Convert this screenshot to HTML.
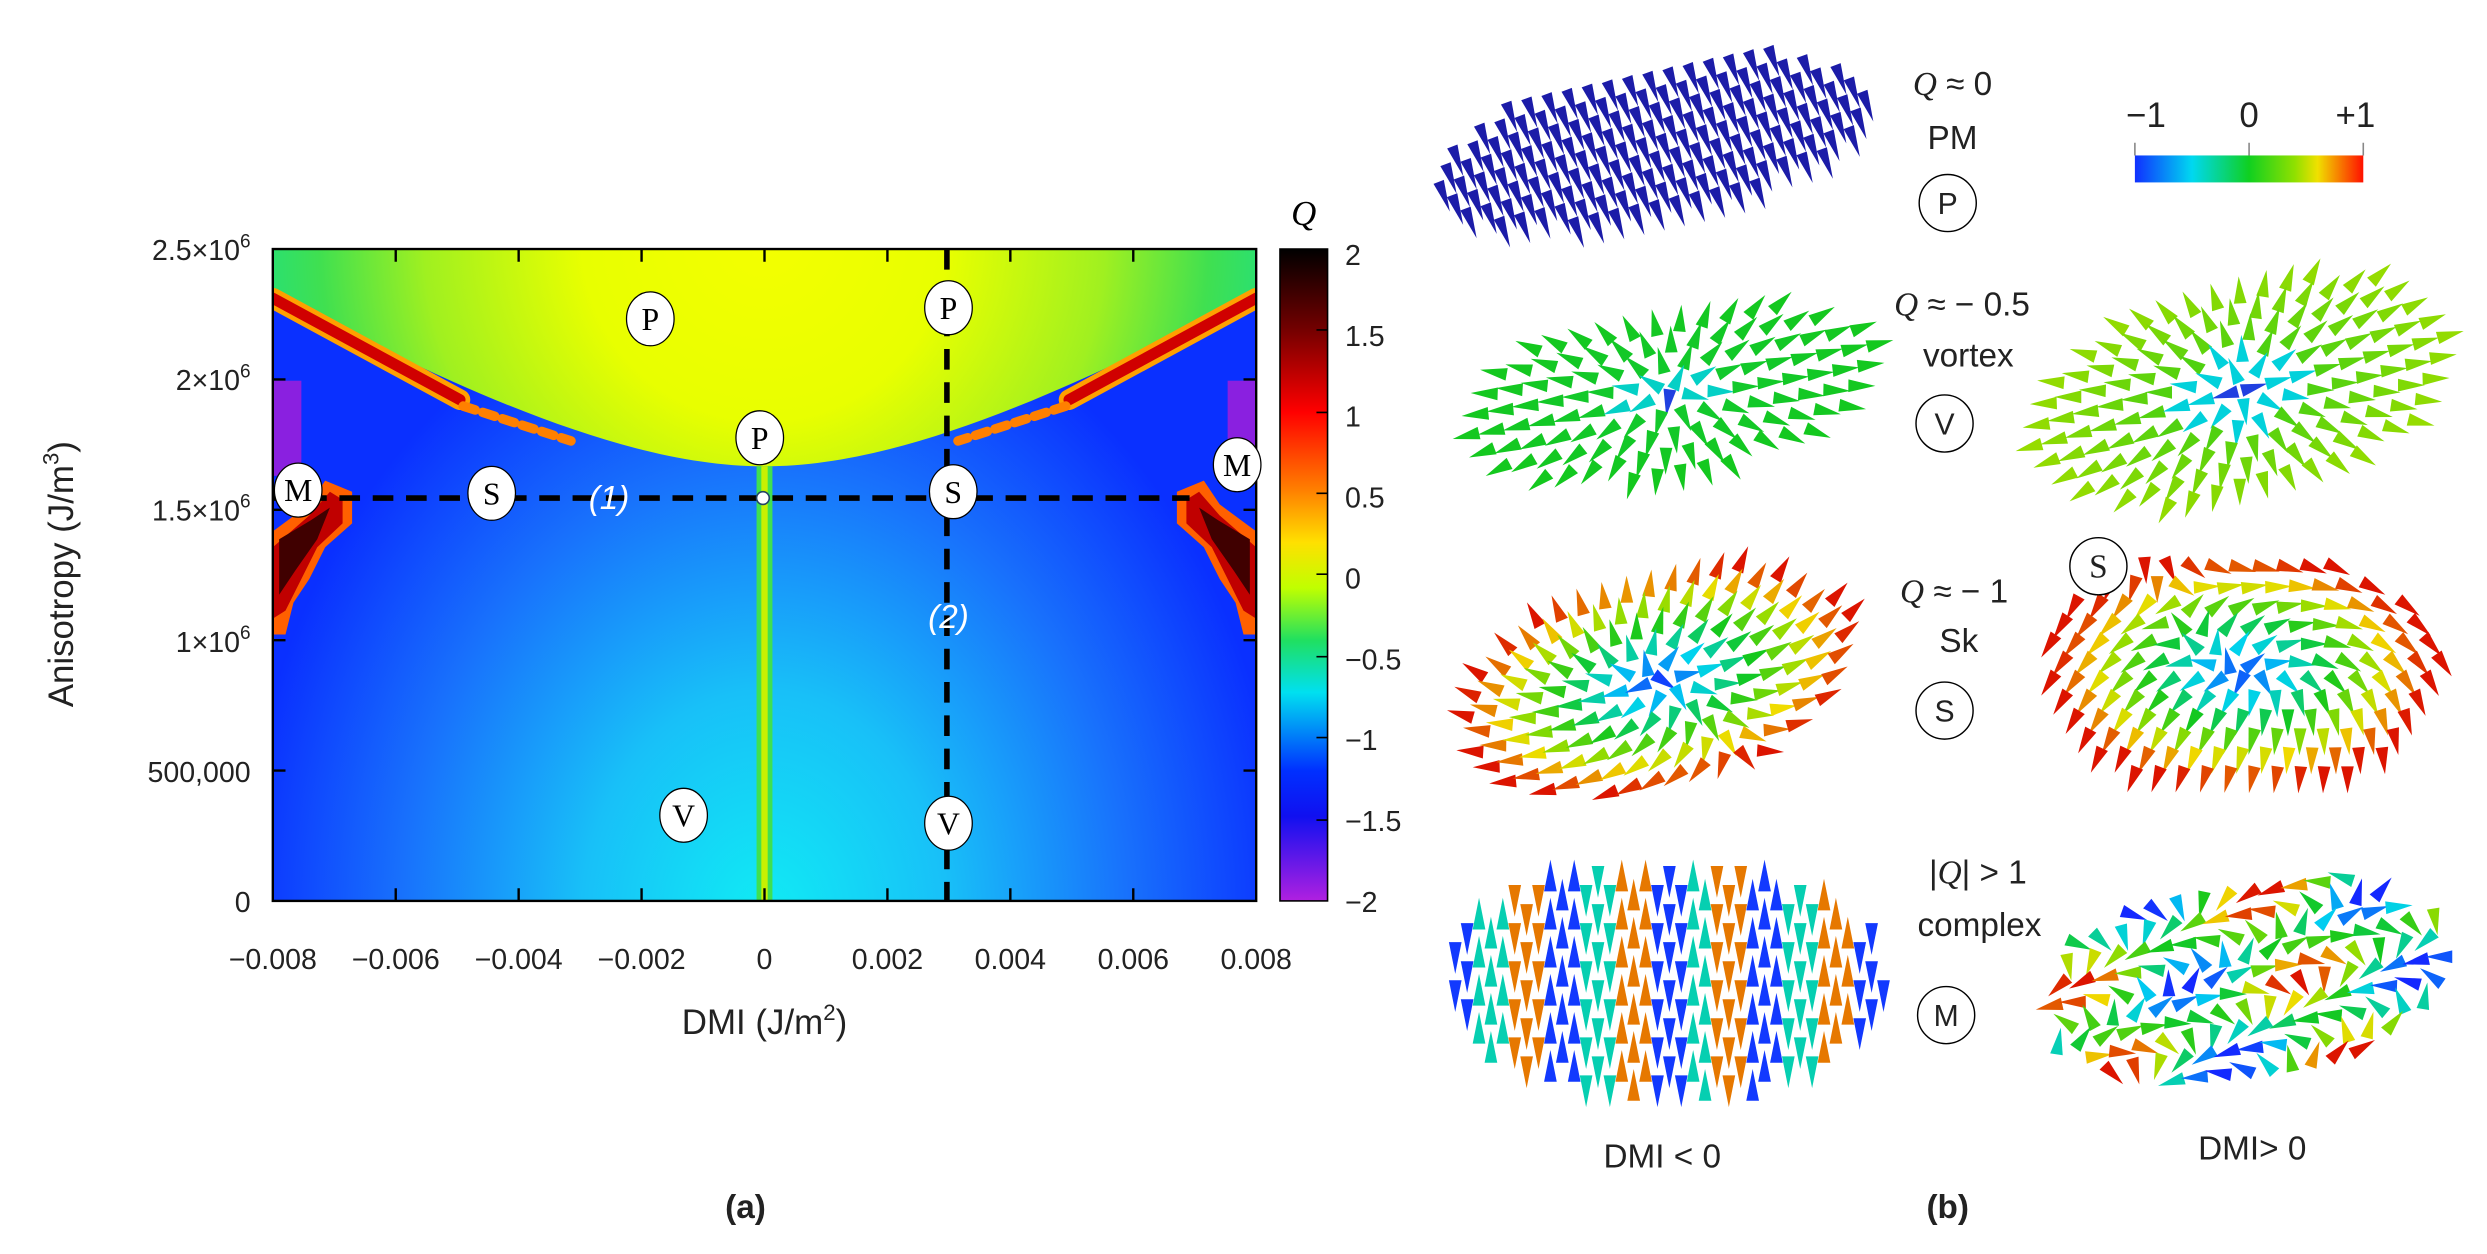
<!DOCTYPE html>
<html><head><meta charset="utf-8"><style>
html,body{margin:0;padding:0;background:#fff;}
svg{display:block;}
.t{font-family:"Liberation Sans",sans-serif;fill:#222;}
.s{font-family:"Liberation Serif",serif;}
</style></head><body>
<svg id="sv" width="2487" height="1254" viewBox="0 0 1568 790.6" xmlns="http://www.w3.org/2000/svg">
<defs>
<clipPath id="pc"><rect x="172" y="157" width="620" height="411"/></clipPath>
<radialGradient id="bg" cx="482" cy="580" r="330" gradientUnits="userSpaceOnUse" gradientTransform="translate(482 580) scale(1 1.25) translate(-482 -580)">
<stop offset="0" stop-color="#10ecf4"/><stop offset="0.35" stop-color="#18c0f8"/><stop offset="0.7" stop-color="#1870fc"/><stop offset="1" stop-color="#0a30ff"/></radialGradient>
<radialGradient id="yl" cx="482" cy="150" r="330" gradientUnits="userSpaceOnUse">
<stop offset="0" stop-color="#f4ff00"/><stop offset="0.35" stop-color="#e8ff00"/><stop offset="0.65" stop-color="#a0f020"/><stop offset="0.85" stop-color="#40e050"/><stop offset="1" stop-color="#20e080"/></radialGradient>
<linearGradient id="cb" x1="0" y1="0" x2="0" y2="1">
<stop offset="0" stop-color="#000000"/><stop offset="0.12" stop-color="#700000"/><stop offset="0.25" stop-color="#ff0000"/><stop offset="0.37" stop-color="#ff8000"/><stop offset="0.45" stop-color="#ffe000"/><stop offset="0.52" stop-color="#c0ff00"/><stop offset="0.6" stop-color="#20e060"/><stop offset="0.68" stop-color="#00e0f0"/><stop offset="0.8" stop-color="#0030ff"/><stop offset="0.87" stop-color="#1010f0"/><stop offset="1" stop-color="#b020e0"/></linearGradient>
<linearGradient id="cb2" x1="0" y1="0" x2="1" y2="0">
<stop offset="0" stop-color="#1030ff"/><stop offset="0.25" stop-color="#00d8f0"/><stop offset="0.5" stop-color="#10d020"/><stop offset="0.7" stop-color="#90e000"/><stop offset="0.8" stop-color="#f0e000"/><stop offset="1" stop-color="#ff1000"/></linearGradient>
</defs>
<g clip-path="url(#pc)">
<rect x="172" y="157" width="620" height="411" fill="url(#bg)"/>
<path d="M172,157 L172,185 C300,252 400,294 482,294 C564,294 664,252 792,185 L792,157Z" fill="url(#yl)"/>
<g fill="none" stroke-linecap="round">
<path d="M172,188 L290,252" stroke="#ffa000" stroke-width="13"/>
<path d="M172,188 L290,252" stroke="#d00000" stroke-width="7"/>
<path d="M792,188 L674,252" stroke="#ffa000" stroke-width="13"/>
<path d="M792,188 L674,252" stroke="#d00000" stroke-width="7"/>
<path d="M292,256 L360,278" stroke="#ff8000" stroke-width="6" stroke-dasharray="8 5"/>
<path d="M672,256 L604,278" stroke="#ff8000" stroke-width="6" stroke-dasharray="8 5"/>
</g>
<rect x="172" y="240" width="18" height="60" fill="#8a20e0"/>
<rect x="774" y="240" width="18" height="60" fill="#8a20e0"/>
<polygon points="172,335 195,318 205,303 222,310 222,330 205,345 195,365 185,380 180,400 172,400" fill="#ff6000"/>
<polygon points="172,345 195,325 208,310 216,315 216,330 200,345 190,365 180,385 172,390" fill="#c00000"/>
<polygon points="176,340 196,328 208,320 200,340 186,360 176,375" fill="#400000"/>
<polygon points="792,335 769,318 759,303 742,310 742,330 759,345 769,365 779,380 784,400 792,400" fill="#ff6000"/>
<polygon points="792,345 769,325 756,310 748,315 748,330 764,345 774,365 784,385 792,390" fill="#c00000"/>
<polygon points="788,340 768,328 756,320 764,340 778,360 788,375" fill="#400000"/>
<rect x="477" y="294" width="10" height="274" fill="#40e050"/>
<rect x="480" y="294" width="4" height="274" fill="#c8f000"/>
</g>
<rect x="172" y="157" width="620" height="411" fill="none" stroke="#000" stroke-width="1.5"/>
<g stroke="#000" stroke-width="1.5">
<path d="M249.5,157v8M327,157v8M404.5,157v8M482,157v8M559.5,157v8M637,157v8M714.5,157v8M249.5,568v-8M327,568v-8M404.5,568v-8M482,568v-8M559.5,568v-8M637,568v-8M714.5,568v-8"/>
<path d="M172,239.2h8M172,321.4h8M172,403.6h8M172,485.8h8M792,239.2h-8M792,321.4h-8M792,403.6h-8M792,485.8h-8"/>
</g>
<g stroke="#000" stroke-width="3.5" stroke-dasharray="13 8" fill="none">
<path d="M172,314 L750,314"/><path d="M597,157 L597,568"/>
</g>
<circle cx="481" cy="314" r="4" fill="#fff" stroke="#246" stroke-width="1"/>
<g class="s" font-size="20" text-anchor="middle">
<g fill="#fff" stroke="#000" stroke-width="0.8">
<ellipse cx="410" cy="201" rx="15" ry="17"/><ellipse cx="598" cy="194" rx="15" ry="17"/><ellipse cx="479" cy="276" rx="15" ry="17"/>
<ellipse cx="188" cy="309" rx="15" ry="17"/><ellipse cx="310" cy="311" rx="15" ry="17"/><ellipse cx="601" cy="310" rx="15" ry="17"/>
<ellipse cx="780" cy="293" rx="15" ry="17"/><ellipse cx="431" cy="514" rx="15" ry="17"/><ellipse cx="598" cy="519" rx="15" ry="17"/>
</g>
<g fill="#000">
<text x="410" y="208">P</text><text x="598" y="201">P</text><text x="479" y="283">P</text>
<text x="188" y="316">M</text><text x="310" y="318">S</text><text x="601" y="317">S</text>
<text x="780" y="300">M</text><text x="431" y="521">V</text><text x="598" y="526">V</text>
</g>
<g fill="#fff" font-family="Liberation Sans,sans-serif" font-style="italic" font-size="21">
<text x="384" y="321">(1)</text><text x="598" y="396">(2)</text></g>
</g>
<rect x="807" y="157" width="30" height="411" fill="url(#cb)" stroke="#000" stroke-width="1"/>
<g stroke="#000" stroke-width="1"><path d="M830,208h7M830,260h7M830,311h7M830,362h7M830,414h7M830,465h7M830,517h7"/></g>
<text x="822" y="142" class="s" font-style="italic" font-size="22" text-anchor="middle" fill="#000">Q</text>
<g class="t" font-size="18">
<text x="848" y="167">2</text><text x="848" y="218">1.5</text><text x="848" y="269">1</text><text x="848" y="320">0.5</text><text x="848" y="371">0</text><text x="848" y="422">−0.5</text><text x="848" y="473">−1</text><text x="848" y="524">−1.5</text><text x="848" y="575">−2</text>
</g>
<g class="t" font-size="18" text-anchor="middle">
<text x="172" y="611">−0.008</text><text x="249.5" y="611">−0.006</text><text x="327" y="611">−0.004</text><text x="404.5" y="611">−0.002</text><text x="482" y="611">0</text><text x="559.5" y="611">0.002</text><text x="637" y="611">0.004</text><text x="714.5" y="611">0.006</text><text x="792" y="611">0.008</text>
</g>
<g class="t" font-size="18" text-anchor="end">
<text x="158" y="164">2.5×10<tspan font-size="12" dy="-8">6</tspan></text>
<text x="158" y="246">2×10<tspan font-size="12" dy="-8">6</tspan></text>
<text x="158" y="328">1.5×10<tspan font-size="12" dy="-8">6</tspan></text>
<text x="158" y="411">1×10<tspan font-size="12" dy="-8">6</tspan></text>
<text x="158" y="493">500,000</text>
<text x="158" y="575">0</text>
</g>
<text class="t" x="482" y="652" font-size="22" text-anchor="middle">DMI (J/m<tspan font-size="14" dy="-9">2</tspan><tspan dy="9">)</tspan></text>
<text class="t" transform="translate(46,362) rotate(-90)" font-size="22" text-anchor="middle">Anisotropy (J/m<tspan font-size="14" dy="-9">3</tspan><tspan dy="9">)</tspan></text>
<text class="t" x="470" y="768" font-size="21" font-weight="bold" text-anchor="middle" fill="#000">(a)</text>
<text class="t" x="1228" y="768" font-size="21" font-weight="bold" text-anchor="middle" fill="#000">(b)</text>
<g id="cones"></g>
<g class="t" font-size="21" text-anchor="middle">
<text x="1231" y="60"><tspan class="s" font-style="italic">Q</tspan> ≈ 0</text>
<text x="1231" y="94">PM</text>
<text x="1237" y="199"><tspan class="s" font-style="italic">Q</tspan> ≈ − 0.5</text>
<text x="1241" y="231">vortex</text>
<text x="1232" y="380"><tspan class="s" font-style="italic">Q</tspan> ≈ − 1</text>
<text x="1235" y="411">Sk</text>
<text x="1247" y="557">|<tspan class="s" font-style="italic">Q</tspan>| &gt; 1</text>
<text x="1248" y="590">complex</text>
<text x="1048" y="736">DMI &lt; 0</text>
<text x="1420" y="731">DMI&gt; 0</text>
</g>
<g fill="#fff" stroke="#000" stroke-width="0.9">
<circle cx="1228" cy="128" r="18"/><circle cx="1226" cy="267" r="18"/><circle cx="1226" cy="448" r="18"/><circle cx="1227" cy="640" r="18"/><circle cx="1323" cy="357" r="18"/>
</g>
<g class="t" font-size="19" text-anchor="middle">
<text x="1228" y="135">P</text><text x="1226" y="274">V</text><text x="1226" y="455">S</text><text x="1227" y="647">M</text>
<text x="1323" y="364" class="s" font-size="21">S</text>
</g>
<rect x="1346" y="98" width="144" height="17" fill="url(#cb2)"/>
<g stroke="#888" stroke-width="1"><path d="M1346,90v8M1418,90v8M1490,90v8"/></g>
<g class="t" font-size="22" text-anchor="middle">
<text x="1353" y="80">−1</text><text x="1418" y="80">0</text><text x="1485" y="80">+1</text>
</g>
</svg>
<script>
(function(){
var g=document.getElementById('cones'),out=[];
function cm(t){t=Math.max(-1,Math.min(1,t));var s=[[-1,[20,40,255]],[-0.5,[0,210,240]],[0,[20,200,30]],[0.4,[150,220,0]],[0.6,[240,220,0]],[1,[220,20,0]]];
for(var i=0;i<s.length-1;i++){if(t<=s[i+1][0]){var f=(t-s[i][0])/(s[i+1][0]-s[i][0]);var a=s[i][1],b=s[i+1][1];return 'rgb('+[0,1,2].map(function(k){return Math.round(a[k]+(b[k]-a[k])*f)}).join(',')+')';}}return 'rgb(220,20,0)';}
function disc(cx,cy,rx,ry,rot,sx,sy,L,W,fn){var r=rot*Math.PI/180,c=Math.cos(r),s=Math.sin(r);
var row=0;
for(var ly=-ry;ly<=ry+0.01;ly+=sy){row++;for(var lx=-rx+((row%2)?0:sx/2);lx<=rx+0.01;lx+=sx){var u=lx/rx,v=ly/ry;var d=u*u+v*v;if(d>1)continue;
var o=fn(u,v,Math.sqrt(d));if(!o)continue;var x=cx+lx*c-ly*s,y=cy+lx*s+ly*c;
var dx=o[0],dy=o[1];var n=Math.sqrt(dx*dx+dy*dy)||1;dx/=n;dy/=n;
var ax=dx*c-dy*s,ay=dx*s+dy*c,l=L*(o[3]||1);
var px=-ay*W/2,py=ax*W/2;var bx=x-ax*l*0.4,by=y-ay*l*0.4;
out.push('<polygon points="'+(bx+ax*l).toFixed(1)+','+(by+ay*l).toFixed(1)+' '+(bx+px).toFixed(1)+','+(by+py).toFixed(1)+' '+(bx-px).toFixed(1)+','+(by-py).toFixed(1)+'" fill="'+o[2]+'"/>');}}}
disc(1042,92,142,48,-12,13,10,20,7,function(u,v,r){return [0.15,1,'#1c1ca8'];});
disc(1053,247,138,55,-10,16,12,17,8,function(u,v,r){return [u,v*0.5,r<0.12?'#2040e0':(r<0.28?cm(-0.4):cm(-0.05+0.05*r))];});
disc(1414,246,138,72,-15,16,12,17,8,function(u,v,r){return [u,v*0.6,r<0.15?'#2040e0':(r<0.35?cm(-0.45):cm(0.05+0.35*r))];});
disc(1045,428,132,70,-15,15,12,17,8,function(u,v,r){var t=-1+2.1*r;return [u-0.3*v,v*0.6-0.5*(r*r),cm(t),1];});
disc(1413,424,128,78,0,15,12,17,8,function(u,v,r){var t=-1+2.2*r;return [u*0.5-v*0.3,0.6*v+0.8*r*r,cm(t)];});
disc(1050,618,140,76,0,15,12,20,8,function(u,v,r){var k=Math.round(u*6.5);var m=((k%3)+3)%3;var col=m==0?cm(-0.95):(m==1?cm(-0.35):cm(0.8));return [0,(k%2?-1:1),col];});
disc(1415,618,130,65,-10,15,12,17,8,function(u,v,r){var t=Math.sin(u*5+v*3)*Math.cos(v*4-u);return [Math.cos(u*3+v*5),Math.sin(u*3+v*5)*0.6,cm(t*1.1)];});
g.innerHTML=out.join('');
})();
</script>
</body></html>
